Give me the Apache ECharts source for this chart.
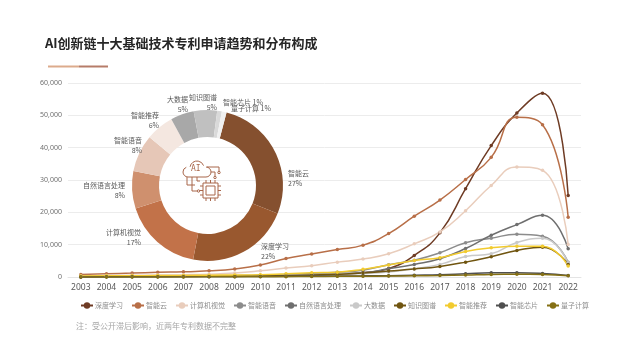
<!DOCTYPE html>
<html>
<head>
<meta charset="utf-8">
<style>
  html, body { margin: 0; padding: 0; background: #fff; }
  #chart { width: 640px; height: 360px; }
</style>
<script src="https://cdn.jsdelivr.net/npm/echarts@6/dist/echarts.min.js"></script>
</head>
<body>
<div id="chart"></div>
<script>
const years = ['2003','2004','2005','2006','2007','2008','2009','2010','2011','2012','2013','2014','2015','2016','2017','2018','2019','2020','2021','2022']

const deepLearning = [100,120,150,180,200,230,260,320,420,600,850,1300,2600,6670,13650,27300,40650,50700,56800,25200]
const smartCloud = [800,1000,1200,1450,1600,1900,2500,3700,5700,7100,8500,9850,13440,18800,23800,30150,37000,49400,47100,18470]
const vision = [400,450,520,600,700,850,1200,1900,2800,3500,4600,5540,7180,10260,13950,20500,28300,34000,33000,10050]
const speech = [150,180,220,260,300,350,420,550,800,1100,1500,2100,3800,5200,7500,10570,12000,13200,12600,4600]
const nlp = [100,130,160,190,220,260,320,420,600,800,1000,1300,2560,3900,5650,8800,12900,16200,19080,8700]
const bigData = [120,140,170,200,230,270,330,430,600,750,950,1100,1540,2560,3900,6360,7180,10670,12000,4400]
const knowledge = [80,100,130,160,190,230,280,360,500,650,850,1200,1850,2460,3280,4600,6260,8200,9230,3900]
const recommend = [300,350,400,450,500,560,620,720,1000,1300,1500,2360,3700,5130,5950,7900,9030,9540,9540,3400]
const aiChip = [30,40,50,60,70,90,110,140,200,280,330,350,400,550,700,1000,1300,1330,1100,500]
const quantum = [10,15,20,25,30,40,50,70,100,150,200,230,280,350,450,600,800,850,800,400]

const seriesNames = ['深度学习','智能云','计算机视觉','智能语音','自然语言处理','大数据','知识图谱','智能推荐','智能芯片','量子计算']
const seriesValues = [deepLearning, smartCloud, vision, speech, nlp, bigData, knowledge, recommend, aiChip, quantum]
const lineColors = ['#6e3b24','#b86f48','#e9cdbc','#8c8c8c','#6f6f6f','#c9c9c9','#705510','#f2cb2f','#4f4f4f','#857014']

const pieNames = ['智能云','深度学习','计算机视觉','自然语言处理','智能语音','智能推荐','大数据','知识图谱','智能芯片','量子计算']
const pieValues = [27,22,17,8,8,6,5,5,1,1]
const pieColors = ['#85502f','#99582f','#c27249','#cf906e','#e6c7b7','#f4e7e0','#a8a8a8','#c0c0c0','#d9d9d9','#f0f0f0']

// hand placed like the original slide, [x, y, align]
const pieLabelPos = [
  [288,178,'left'],[261,251,'left'],[141,237,'right'],[125,190,'right'],[142,145,'right'],
  [159,120,'right'],[188,104.5,'right'],[217,102,'right'],[223,102,'left'],[231,108.5,'left']
]

const fontCn = '"Noto Sans CJK SC", "Noto Sans", sans-serif'
const iconColor = '#a8664a'
const iconStroke = { fill: null, stroke: iconColor, lineWidth: 1 }

function iconArc(cx, cy, r, startDeg, endDeg) {
  return { type: 'arc', z: 10, shape: { cx, cy, r, startAngle: startDeg * Math.PI / 180, endAngle: endDeg * Math.PI / 180, clockwise: true }, style: iconStroke }
}
function iconLine(points) {
  return { type: 'polyline', z: 10, shape: { points }, style: iconStroke }
}
function iconDot(cx, cy) {
  return { type: 'circle', z: 10, shape: { cx, cy, r: 1.2 }, style: iconStroke }
}

const chart = echarts.init(document.getElementById('chart'))

const lineSeries = seriesNames.map((name, i) => ({
  name,
  type: 'line',
  data: seriesValues[i],
  smooth: true,
  symbol: 'circle',
  symbolSize: 3.5,
  lineStyle: { width: 1.5, color: lineColors[i] },
  itemStyle: { color: lineColors[i] }
}))

const chipPins = []
;[186, 190.5, 195].forEach(y => {
  chipPins.push(iconLine([[200, y], [203, y]]), iconLine([[218, y], [221, y]]))
})
;[206, 210.5, 215].forEach(x => {
  chipPins.push(iconLine([[x, 180], [x, 183]]), iconLine([[x, 198], [x, 201]]))
})

const option = {
  animation: false,
  backgroundColor: '#fff',
  textStyle: { fontFamily: fontCn },
  grid: { left: 68, right: 59, top: 83, bottom: 83 },
  legend: {
    data: seriesNames,
    left: 75,
    top: 297,
    itemWidth: 12,
    itemHeight: 8,
    itemGap: 8,
    textStyle: { fontSize: 7, color: '#8c8c8c', padding: [0, 0, 0, -3] }
  },
  xAxis: {
    type: 'category',
    data: years,
    boundaryGap: true,
    axisTick: { show: false },
    axisLine: { lineStyle: { color: '#e4e4e4' } },
    axisLabel: { fontSize: 8.5, color: '#595959', margin: 6, fontFamily: '"Noto Sans", sans-serif' }
  },
  yAxis: {
    type: 'value',
    min: 0,
    max: 60000,
    interval: 10000,
    axisLine: { show: false },
    axisTick: { show: false },
    axisLabel: { fontSize: 7, color: '#707070', margin: 6, fontFamily: '"Noto Sans", sans-serif' },
    splitLine: { lineStyle: { color: '#ececec', width: 1 } }
  },
  series: lineSeries.concat([{
    name: '分布构成',
    type: 'pie',
    center: [207.5, 185.5],
    radius: [48.5, 75.5],
    startAngle: 75.4,
    clockwise: true,
    silent: true,
    z: 5,
    data: pieNames.map((name, i) => ({ name, value: pieValues[i], itemStyle: { color: pieColors[i] } })),
    label: {
      show: true,
      fontSize: 7,
      lineHeight: 10,
      color: '#595959',
      formatter: p => (p.value <= 1 ? p.name + ' ' + p.value + '%' : p.name + '\n' + p.value + '%')
    },
    labelLine: { show: false },
    labelLayout: p => {
      const pos = pieLabelPos[p.dataIndex]
      return { x: pos[0], y: pos[1], align: pos[2], verticalAlign: 'middle' }
    }
  }]),
  graphic: [
    { type: 'text', left: 45, top: 37, style: { text: 'AI创新链十大基础技术专利申请趋势和分布构成', font: 'bold 13px ' + fontCn, fill: '#262626' } },
    { type: 'rect', shape: { x: 48, y: 65.5, width: 31, height: 2 }, style: { fill: '#dcab8c' } },
    { type: 'rect', shape: { x: 79, y: 65.5, width: 29, height: 2 }, style: { fill: '#b67c69' } },
    { type: 'text', left: 76, top: 322, style: { text: '注：受公开滞后影响，近两年专利数据不完整', font: '8px ' + fontCn, fill: '#a6a6a6' } },
    // AI cloud + chip icon in the donut hole
    iconArc(188, 172, 5, 90, 250),
    iconArc(197, 168, 7, 190, 340),
    iconArc(206, 172, 5, 270, 90),
    iconLine([[188, 177], [206, 177]]),
    iconLine([[192, 177], [192, 191], [197, 191]]),
    iconLine([[187, 177], [187, 185], [195, 185]]),
    iconLine([[197, 177], [197, 181], [200, 181]]),
    iconLine([[207, 167], [219, 167], [219, 171]]),
    iconLine([[211, 172], [215, 172], [215, 176]]),
    iconDot(219, 172.5),
    iconDot(215, 177.5),
    iconDot(198.5, 191),
    { type: 'text', z: 10, left: 191, top: 165, style: { text: 'AI', font: '8px "DejaVu Sans Mono", monospace', fill: iconColor } },
    { type: 'rect', z: 10, shape: { x: 203, y: 183, width: 15, height: 15 }, style: iconStroke },
    { type: 'rect', z: 10, shape: { x: 206, y: 186, width: 9, height: 9 }, style: iconStroke }
  ].concat(chipPins)
}

chart.setOption(option)
</script>
</body>
</html>
